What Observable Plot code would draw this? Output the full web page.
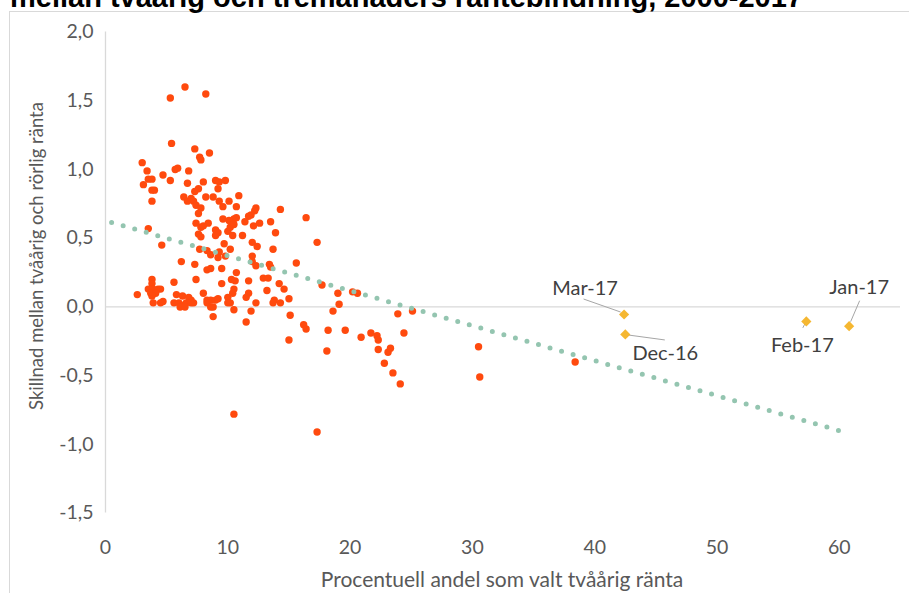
<!DOCTYPE html>
<html><head><meta charset="utf-8">
<script src="https://cdn.jsdelivr.net/npm/d3@7"></script>
<script src="https://cdn.jsdelivr.net/npm/@observablehq/plot@0.6"></script>
<style>
html,body{margin:0;padding:0;background:#fff;}
body{width:909px;height:593px;position:relative;overflow:hidden;font-family:Lato,"Open Sans",sans-serif;}
#frame{position:absolute;left:9px;top:11px;width:940px;height:640px;border:1px solid #d9d9d9;box-sizing:border-box;}
#title{position:absolute;left:10px;top:-19px;font:bold 29px "Liberation Sans",Arial,sans-serif;color:#000;white-space:nowrap;line-height:32px;}
#chart{position:absolute;left:0;top:0;}
.ytitle{position:absolute;left:36px;top:256px;transform:translate(-50%,-50%) rotate(-90deg);white-space:nowrap;font-size:18.5px;color:#595959;}
.xtitle{position:absolute;left:502px;top:578px;transform:translate(-50%,-50%);white-space:nowrap;font-size:21px;color:#595959;}
</style></head>
<body>
<div id="frame"></div>
<div id="title">mellan tvåårig och tremånaders räntebindning, 2000-2017</div>
<div id="chart"></div>
<div class="ytitle">Skillnad mellan tvåårig och rörlig ränta</div>
<div class="xtitle">Procentuell andel som valt tvåårig ränta</div>
<script>
// Procentuell andel som valt tvåårig ränta (x) och skillnad i ränta (y)
const andel = [6.5,5.3,8.2,5.4,7.3,8.5,7.7,7.8,3.0,3.4,4.7,5.7,5.9,6.8,3.5,3.8,3.1,5.3,6.7,8.0,9.0,9.3,9.8,3.8,4.0,3.8,7.6,7.3,9.2,6.4,6.7,7.0,7.2,8.2,8.8,9.3,10.1,10.9,7.4,7.8,9.6,10.7,7.6,9.6,10.1,10.5,10.7,12.3,12.2,11.9,11.7,11.4,14.3,16.4,13.5,12.6,12.1,7.4,8.4,7.8,8.0,9.0,9.2,9.0,10.0,10.2,10.5,3.5,4.6,7.6,7.8,11.2,10.4,13.9,12.0,12.4,9.7,10.2,13.7,17.3,7.7,8.3,8.6,9.3,9.2,9.8,12.0,12.0,12.3,6.2,7.3,8.3,8.6,9.5,10.7,15.6,13.4,13.5,12.9,13.3,14.2,14.6,17.7,3.8,3.8,5.6,7.4,9.5,10.3,10.6,11.7,2.6,3.5,3.9,4.3,4.5,3.7,4.1,3.8,5.8,6.3,6.8,7.0,8.0,8.3,8.6,9.0,9.2,10.0,10.5,10.4,11.7,11.5,13.2,13.8,13.7,14.3,15.0,3.9,4.5,4.7,5.6,6.0,6.3,6.6,7.0,7.2,6.1,6.5,8.3,8.6,8.8,10.0,12.3,8.8,10.5,11.9,11.5,15.1,16.2,16.4,15.0,10.5,17.3,19.0,19.1,20.2,20.6,18.6,18.2,19.6,18.1,20.9,21.7,22.2,22.3,22.3,23.1,23.3,22.8,23.5,24.1,23.9,24.4,25.1,30.5,30.6,38.4,10.2];
const skillnad = [1.60,1.52,1.55,1.19,1.15,1.12,1.09,1.07,1.05,0.99,0.96,1.00,1.01,0.99,0.93,0.93,0.89,0.92,0.90,0.91,0.92,0.91,0.92,0.85,0.85,0.77,0.86,0.84,0.86,0.80,0.77,0.79,0.77,0.80,0.80,0.77,0.77,0.81,0.74,0.72,0.73,0.73,0.68,0.64,0.63,0.64,0.65,0.72,0.70,0.67,0.66,0.62,0.71,0.65,0.62,0.61,0.59,0.61,0.61,0.58,0.59,0.56,0.54,0.52,0.55,0.58,0.60,0.57,0.45,0.53,0.51,0.52,0.52,0.54,0.47,0.44,0.46,0.42,0.42,0.47,0.42,0.41,0.38,0.40,0.36,0.37,0.37,0.33,0.30,0.33,0.31,0.27,0.28,0.28,0.25,0.32,0.31,0.29,0.21,0.21,0.17,0.13,0.16,0.20,0.17,0.18,0.20,0.17,0.20,0.19,0.19,0.09,0.13,0.13,0.13,0.13,0.10,0.10,0.08,0.09,0.08,0.07,0.05,0.10,0.05,0.05,0.05,0.06,0.07,0.13,0.10,0.10,0.07,0.12,0.05,0.03,0.03,0.06,0.03,0.03,0.04,0.03,0.03,0.01,0.03,0.03,0.03,0.00,0.00,0.03,0.00,0.00,0.03,0.03,-0.07,-0.02,-0.03,-0.11,-0.06,-0.13,-0.16,-0.24,-0.78,-0.91,0.10,0.02,0.11,0.10,-0.03,-0.17,-0.17,-0.32,-0.22,-0.19,-0.21,-0.24,-0.31,-0.33,-0.30,-0.41,-0.48,-0.56,-0.05,-0.19,-0.03,-0.29,-0.51,-0.40,0.03];

// Utvalda månader
const manader = ["Mar-17","Dec-16","Feb-17","Jan-17"];
const manadAndel = [42.4,42.5,57.3,60.8];
const manadSkillnad = [-0.055,-0.20,-0.105,-0.14];

// Linjär trend
const trendAndel = [0.5,60.5];
const trendSkillnad = [0.615,-0.913];

// Axelmarkeringar
const xTicks = [0,10,20,30,40,50,60];
const yTicks = [-1.5,-1.0,-0.5,0.0,0.5,1.0,1.5,2.0];

const points = andel.map((x,i)=>({x, y: skillnad[i]}));
const special = manader.map((m,i)=>({m, x: manadAndel[i], y: manadSkillnad[i]}));
const trend = trendAndel.map((x,i)=>({x, y: trendSkillnad[i]}));

// label offsets (px) relative to their point, and leader line offsets
const labelOff = [[-39,-26],[40,19],[-4,24],[10,-39]];
const leaderOff = [[[-40,-15],[-3,-2]],[[3,1],[40,6]],[[-1,3],[-3,7]],[[2,-4],[11,-25]]];

const yFmt = d => d.toFixed(1).replace(".", ",");

const leaders = (index, scales) => {
  const g = d3.create("svg:g").attr("stroke","#a6a6a6").attr("stroke-width",1);
  special.forEach((s,i)=>{
    const px = scales.x(s.x), py = scales.y(s.y);
    const [a,b] = leaderOff[i];
    g.append("line").attr("x1",px+a[0]).attr("y1",py+a[1]).attr("x2",px+b[0]).attr("y2",py+b[1]);
  });
  return g.node();
};

const plot = Plot.plot({
  width: 909, height: 593,
  marginLeft: 105, marginRight: 9, marginTop: 31.6, marginBottom: 80.4,
  style: {background: "transparent", fontFamily: "Lato, 'Open Sans', sans-serif", fontSize: "19.5px", color: "#595959", overflow: "visible"},
  x: {domain: [0,65]},
  y: {domain: [-1.5,2]},
  marks: [
    Plot.ruleX([0], {stroke: "#d9d9d9", strokeWidth: 1.3}),
    Plot.ruleY([0], {stroke: "#d9d9d9", strokeWidth: 1.3}),
    Plot.axisY({ticks: yTicks, tickSize: 0, tickPadding: 12, tickFormat: yFmt, label: null, fill: "#595959", fontSize: 19.5}),
    Plot.axisX({ticks: xTicks, tickSize: 0, tickPadding: 27, tickFormat: d => String(d), label: null, fill: "#595959", fontSize: 19.5}),
    Plot.dot(points, {x: "x", y: "y", r: 3.7, fill: "#ff4a0e"}),
    Plot.line(trend, {x: "x", y: "y", stroke: "#94c5b0", strokeWidth: 5, strokeDasharray: "0,12", strokeLinecap: "round"}),
    leaders,
    Plot.dot(special, {x: "x", y: "y", symbol: "diamond2", r: 4.6, fill: "#f5b731"}),
    ...special.map((s,i) => Plot.text([s], {x: "x", y: "y", text: "m", dx: labelOff[i][0], dy: labelOff[i][1], fontSize: 20, fill: "#404040"}))
  ]
});
document.getElementById("chart").appendChild(plot);
</script>
</body></html>
